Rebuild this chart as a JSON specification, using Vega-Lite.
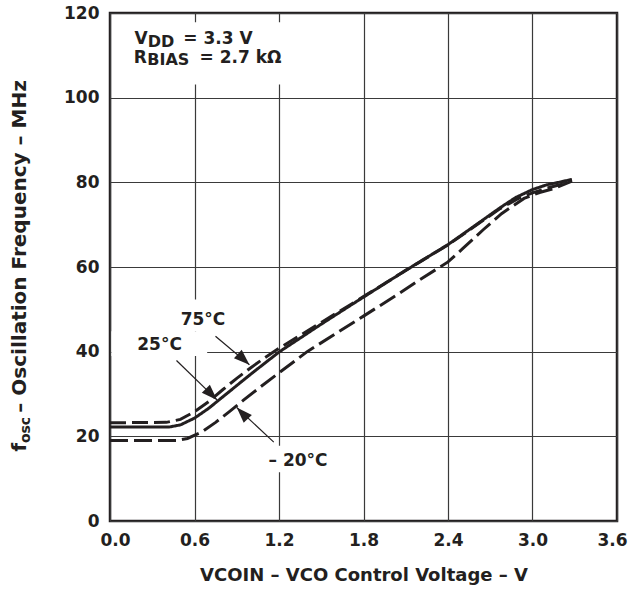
{
  "$schema": "https://vega.github.io/schema/vega-lite/v6.json",
  "width": 507,
  "height": 508,
  "autosize": {"type": "none"},
  "padding": {"left": 110, "top": 13, "right": 20, "bottom": 71},
  "background": "white",
  "config": {
    "view": {"stroke": "#231f20", "strokeWidth": 2.5},
    "font": "DejaVu Sans",
    "axis": {
      "domain": false, "ticks": false, "tickSize": 0, "grid": true,
      "gridColor": "#3a3a3a", "gridWidth": 1.2, "gridOpacity": 1,
      "labelFont": "DejaVu Sans", "labelFontSize": 17, "labelFontWeight": "bold", "labelColor": "#231f20",
      "titleFont": "DejaVu Sans", "titleFontSize": 18, "titleFontWeight": "bold", "titleColor": "#231f20"
    }
  },
  "datasets": {
    "curves": [
      {"temp": "25°C", "x": 0, "y": 22.2}, {"temp": "25°C", "x": 0.42, "y": 22.2}, {"temp": "25°C", "x": 0.5, "y": 22.7},
      {"temp": "25°C", "x": 0.6, "y": 24.3}, {"temp": "25°C", "x": 0.7, "y": 26.6}, {"temp": "25°C", "x": 0.8, "y": 29.3},
      {"temp": "25°C", "x": 0.9, "y": 32.0}, {"temp": "25°C", "x": 1.0, "y": 34.7}, {"temp": "25°C", "x": 1.1, "y": 37.3},
      {"temp": "25°C", "x": 1.2, "y": 39.9}, {"temp": "25°C", "x": 1.5, "y": 46.5}, {"temp": "25°C", "x": 1.8, "y": 52.9},
      {"temp": "25°C", "x": 2.1, "y": 59.2}, {"temp": "25°C", "x": 2.4, "y": 65.3}, {"temp": "25°C", "x": 2.55, "y": 68.8},
      {"temp": "25°C", "x": 2.77, "y": 74.0}, {"temp": "25°C", "x": 2.88, "y": 76.4}, {"temp": "25°C", "x": 3.0, "y": 78.3},
      {"temp": "25°C", "x": 3.1, "y": 79.4}, {"temp": "25°C", "x": 3.2, "y": 80.1}, {"temp": "25°C", "x": 3.28, "y": 80.7},

      {"temp": "75°C", "x": 0, "y": 23.2}, {"temp": "75°C", "x": 0.4, "y": 23.3}, {"temp": "75°C", "x": 0.5, "y": 24.0},
      {"temp": "75°C", "x": 0.6, "y": 25.8}, {"temp": "75°C", "x": 0.7, "y": 28.2}, {"temp": "75°C", "x": 0.8, "y": 31.0},
      {"temp": "75°C", "x": 0.9, "y": 33.7}, {"temp": "75°C", "x": 1.0, "y": 36.2}, {"temp": "75°C", "x": 1.1, "y": 38.6},
      {"temp": "75°C", "x": 1.2, "y": 40.8}, {"temp": "75°C", "x": 1.5, "y": 46.9}, {"temp": "75°C", "x": 1.8, "y": 53.0},
      {"temp": "75°C", "x": 2.1, "y": 59.2}, {"temp": "75°C", "x": 2.4, "y": 65.2}, {"temp": "75°C", "x": 2.55, "y": 68.7},
      {"temp": "75°C", "x": 2.77, "y": 73.8}, {"temp": "75°C", "x": 2.9, "y": 76.2}, {"temp": "75°C", "x": 3.0, "y": 77.5},
      {"temp": "75°C", "x": 3.1, "y": 78.6}, {"temp": "75°C", "x": 3.2, "y": 79.5}, {"temp": "75°C", "x": 3.28, "y": 80.4},

      {"temp": "-20°C", "x": 0, "y": 19.0}, {"temp": "-20°C", "x": 0.47, "y": 19.0}, {"temp": "-20°C", "x": 0.55, "y": 19.5},
      {"temp": "-20°C", "x": 0.65, "y": 21.0}, {"temp": "-20°C", "x": 0.75, "y": 23.3}, {"temp": "-20°C", "x": 0.85, "y": 25.9},
      {"temp": "-20°C", "x": 0.95, "y": 28.6}, {"temp": "-20°C", "x": 1.05, "y": 31.2}, {"temp": "-20°C", "x": 1.2, "y": 35.0},
      {"temp": "-20°C", "x": 1.4, "y": 40.0}, {"temp": "-20°C", "x": 1.6, "y": 44.2}, {"temp": "-20°C", "x": 1.8, "y": 48.4},
      {"temp": "-20°C", "x": 2.06, "y": 53.9}, {"temp": "-20°C", "x": 2.2, "y": 57.0}, {"temp": "-20°C", "x": 2.4, "y": 61.2},
      {"temp": "-20°C", "x": 2.5, "y": 64.2}, {"temp": "-20°C", "x": 2.65, "y": 68.8}, {"temp": "-20°C", "x": 2.78, "y": 72.6},
      {"temp": "-20°C", "x": 2.94, "y": 76.2}, {"temp": "-20°C", "x": 3.05, "y": 77.6}, {"temp": "-20°C", "x": 3.15, "y": 78.5},
      {"temp": "-20°C", "x": 3.28, "y": 80.3}
    ],
    "boxes": [
      {"x": 0.11, "x2": 1.353, "y": 117.8, "y2": 103.1},
      {"x": 0.465, "x2": 0.87, "y": 52.3, "y2": 44.8},
      {"x": 0.01, "x2": 0.69, "y": 44.8, "y2": 39.0},
      {"x": 1.055, "x2": 1.616, "y": 17.8, "y2": 11.5}
    ],
    "arrows": [
      {"label": "75°C", "x": 0.749, "y": 43.66, "x2": 0.99, "y2": 36.9},
      {"label": "25°C", "x": 0.472, "y": 37.92, "x2": 0.76, "y2": 28.6},
      {"label": "-20°C", "x": 1.163, "y": 18.62, "x2": 0.9, "y2": 26.8}
    ],
    "temps": [
      {"t": "75°C", "x": 0.66, "y": 46.19},
      {"t": "25°C", "x": 0.352, "y": 40.51},
      {"t": "– 20°C", "x": 1.335, "y": 13.11}
    ],
    "params": [
      {"t": "V", "x": 0.174, "y": 112.57},
      {"t": "= 3.3 V", "x": 0.52, "y": 112.57},
      {"t": "R", "x": 0.169, "y": 108.24},
      {"t": "= 2.7 kΩ", "x": 0.636, "y": 108.24}
    ],
    "subs": [
      {"t": "DD", "x": 0.268, "y": 111.93},
      {"t": "BIAS", "x": 0.265, "y": 107.6}
    ],
    "ytitle": [
      {"t": "f", "x": -0.6, "y": 16.4},
      {"t": " – Oscillation Frequency – MHz", "x": -0.6, "y": 25.6}
    ],
    "ytitlesub": [
      {"t": "osc", "x": -0.565, "y": 18.4}
    ]
  },
  "encoding": {
    "x": {
      "field": "x", "type": "quantitative",
      "scale": {"domain": [0, 3.6], "nice": false, "zero": false},
      "axis": {"values": [0, 0.6, 1.2, 1.8, 2.4, 3.0, 3.6], "format": ".1f", "labelPadding": 11, "labelFlush": true, "labelFlushOffset": 10, "titlePadding": 18, "title": "VCOIN – VCO Control Voltage – V"}
    },
    "y": {
      "field": "y", "type": "quantitative",
      "scale": {"domain": [0, 120], "nice": false, "zero": false},
      "axis": {"values": [0, 20, 40, 60, 80, 100, 120], "labelPadding": 11, "labelFlush": false, "title": null}
    }
  },
  "layer": [
    {
      "data": {"name": "boxes"},
      "mark": {"type": "rect", "fill": "white", "stroke": null},
      "encoding": {"x2": {"field": "x2"}, "y2": {"field": "y2"}}
    },
    {
      "data": {"name": "curves"},
      "mark": {"type": "line", "strokeWidth": 3, "color": "#231f20", "strokeCap": "butt"},
      "encoding": {
        "detail": {"field": "temp"},
        "strokeDash": {
          "field": "temp", "type": "nominal", "legend": null,
          "scale": {"domain": ["25°C", "75°C", "-20°C"], "range": [[1, 0], [16, 6], [18, 6]]}
        }
      }
    },
    {
      "data": {"name": "arrows"},
      "mark": {"type": "rule", "strokeWidth": 1.2, "color": "#231f20"},
      "encoding": {"x2": {"field": "x2"}, "y2": {"field": "y2"}}
    },
    {
      "data": {"name": "arrows"},
      "transform": [{"filter": "datum.label === '75°C'"}],
      "mark": {"type": "point", "shape": "M0,0L-0.36,1L0.36,1Z", "filled": true, "size": 1000, "angle": 132.8, "color": "#231f20", "opacity": 1},
      "encoding": {"x": {"field": "x2", "type": "quantitative"}, "y": {"field": "y2", "type": "quantitative"}}
    },
    {
      "data": {"name": "arrows"},
      "transform": [{"filter": "datum.label === '25°C'"}],
      "mark": {"type": "point", "shape": "M0,0L-0.36,1L0.36,1Z", "filled": true, "size": 1000, "angle": 135, "color": "#231f20", "opacity": 1},
      "encoding": {"x": {"field": "x2", "type": "quantitative"}, "y": {"field": "y2", "type": "quantitative"}}
    },
    {
      "data": {"name": "arrows"},
      "transform": [{"filter": "datum.label === '-20°C'"}],
      "mark": {"type": "point", "shape": "M0,0L-0.36,1L0.36,1Z", "filled": true, "size": 1000, "angle": 315.8, "color": "#231f20", "opacity": 1},
      "encoding": {"x": {"field": "x2", "type": "quantitative"}, "y": {"field": "y2", "type": "quantitative"}}
    },
    {
      "data": {"name": "temps"},
      "mark": {"type": "text", "font": "DejaVu Sans", "fontSize": 17, "fontWeight": "bold", "align": "center", "baseline": "alphabetic", "color": "#231f20"},
      "encoding": {"text": {"field": "t"}}
    },
    {
      "data": {"name": "params"},
      "mark": {"type": "text", "font": "DejaVu Sans", "fontSize": 17, "fontWeight": "bold", "align": "left", "baseline": "alphabetic", "color": "#231f20"},
      "encoding": {"text": {"field": "t"}}
    },
    {
      "data": {"name": "subs"},
      "mark": {"type": "text", "font": "DejaVu Sans", "fontSize": 16, "fontWeight": "bold", "align": "left", "baseline": "alphabetic", "color": "#231f20"},
      "encoding": {"text": {"field": "t"}}
    },
    {
      "data": {"name": "ytitle"},
      "mark": {"type": "text", "font": "DejaVu Sans", "fontSize": 20, "fontWeight": "bold", "align": "left", "baseline": "alphabetic", "angle": 270, "color": "#231f20"},
      "encoding": {"text": {"field": "t"}}
    },
    {
      "data": {"name": "ytitlesub"},
      "mark": {"type": "text", "font": "DejaVu Sans", "fontSize": 14, "fontWeight": "bold", "align": "left", "baseline": "alphabetic", "angle": 270, "color": "#231f20"},
      "encoding": {"text": {"field": "t"}}
    }
  ]
}
